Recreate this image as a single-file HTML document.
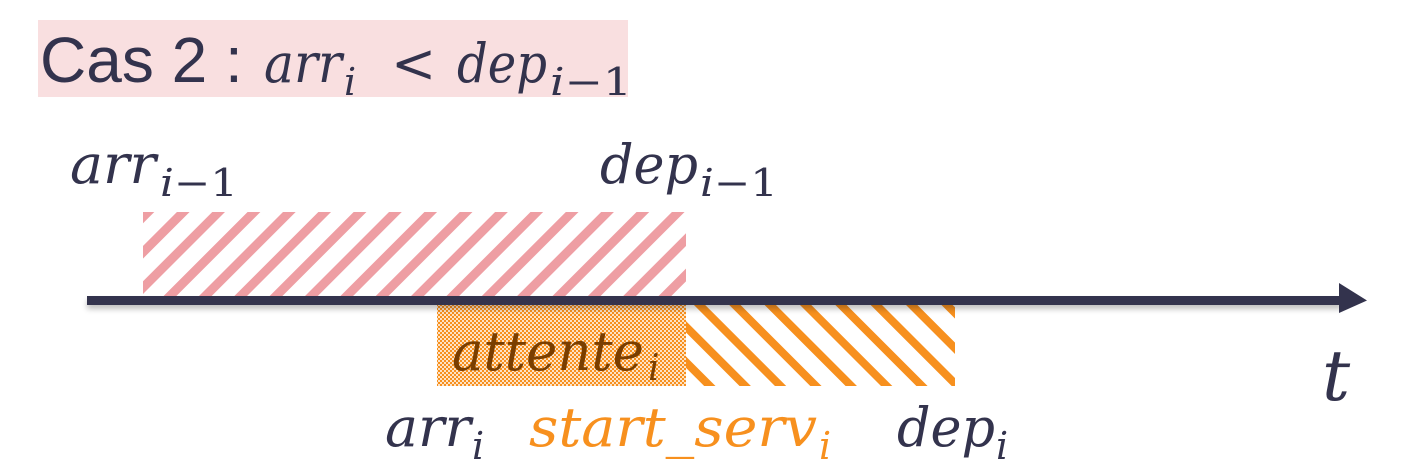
<!DOCTYPE html>
<html><head><meta charset="utf-8"><style>
html,body{margin:0;padding:0;background:#fff;width:1410px;height:467px;overflow:hidden}
svg{display:block}
.m{font-family:"DejaVu Serif","Liberation Serif",serif;font-style:italic;fill:#33334d}
</style></head><body>
<svg width="1410" height="467" viewBox="0 0 1410 467" xmlns="http://www.w3.org/2000/svg">
<defs>
<pattern id="pk" width="25" height="25" patternUnits="userSpaceOnUse" patternTransform="rotate(45)">
<rect width="25" height="25" fill="#fff"/><rect width="9" height="25" fill="#ee9ea3"/>
</pattern>
<pattern id="or" width="25" height="25" patternUnits="userSpaceOnUse" patternTransform="rotate(-45)">
<rect width="25" height="25" fill="#fff"/><rect width="8" height="25" fill="#f7901e"/>
</pattern>
<pattern id="ck" width="4" height="4" patternUnits="userSpaceOnUse">
<rect width="4" height="4" fill="#fde3c6"/><rect width="2" height="2" fill="#f7901e"/><rect x="2" y="2" width="2" height="2" fill="#f7901e"/>
</pattern>
<filter id="sh" x="-5%" y="-50%" width="110%" height="300%"><feGaussianBlur stdDeviation="3"/></filter>
</defs>
<rect x="38" y="20" width="590" height="77" fill="#f9dfe0"/>
<text x="40" y="82" font-family="Liberation Sans, sans-serif" font-size="64" fill="#33334d">Cas 2 :</text>
<text class="m" x="264" y="82" font-size="54" textLength="78" lengthAdjust="spacingAndGlyphs">arr</text>
<text class="m" x="344" y="95" font-size="38">i</text>
<text x="391" y="82" font-family="DejaVu Serif,serif" font-size="54" fill="#33334d">&lt;</text>
<text class="m" x="457" y="82" font-size="54" textLength="90" lengthAdjust="spacingAndGlyphs">dep</text>
<text class="m" x="550" y="95" font-size="38" textLength="82" lengthAdjust="spacingAndGlyphs">i<tspan font-style="normal">−1</tspan></text>

<text class="m" x="70" y="183" font-size="54" textLength="86" lengthAdjust="spacingAndGlyphs">arr</text>
<text class="m" x="160" y="196" font-size="38" textLength="78" lengthAdjust="spacingAndGlyphs">i<tspan font-style="normal">−1</tspan></text>
<text class="m" x="600" y="183" font-size="54" textLength="98" lengthAdjust="spacingAndGlyphs">dep</text>
<text class="m" x="700" y="196" font-size="38" textLength="78" lengthAdjust="spacingAndGlyphs">i<tspan font-style="normal">−1</tspan></text>

<rect x="143" y="212" width="543" height="84" fill="url(#pk)"/>
<rect x="437" y="305" width="249" height="81" fill="url(#ck)"/>
<rect x="686" y="305" width="269" height="81" fill="url(#or)"/>
<text class="m" x="452" y="370" font-size="54" style="fill:#7a3e00" textLength="192" lengthAdjust="spacingAndGlyphs">attente</text>
<text class="m" x="648" y="380" font-size="36" style="fill:#7a3e00">i</text>

<rect x="87" y="300" width="1255" height="9" fill="#000" opacity="0.25" filter="url(#sh)"/>
<rect x="87" y="296" width="1255" height="9" fill="#33334d"/>
<polygon points="1339,283 1367,300.5 1339,313" fill="#33334d"/>
<text class="m" x="1322" y="400" font-size="70">t</text>

<text class="m" x="385" y="446" font-size="54" textLength="86" lengthAdjust="spacingAndGlyphs">arr</text>
<text class="m" x="472" y="459" font-size="38">i</text>
<text class="m" x="529" y="446" font-size="54" style="fill:#f7901e" textLength="288" lengthAdjust="spacingAndGlyphs">start_serv</text>
<text class="m" x="819" y="459" font-size="38" style="fill:#f7901e">i</text>
<text class="m" x="897" y="446" font-size="54" textLength="98" lengthAdjust="spacingAndGlyphs">dep</text>
<text class="m" x="996" y="459" font-size="38">i</text>
</svg>
</body></html>
